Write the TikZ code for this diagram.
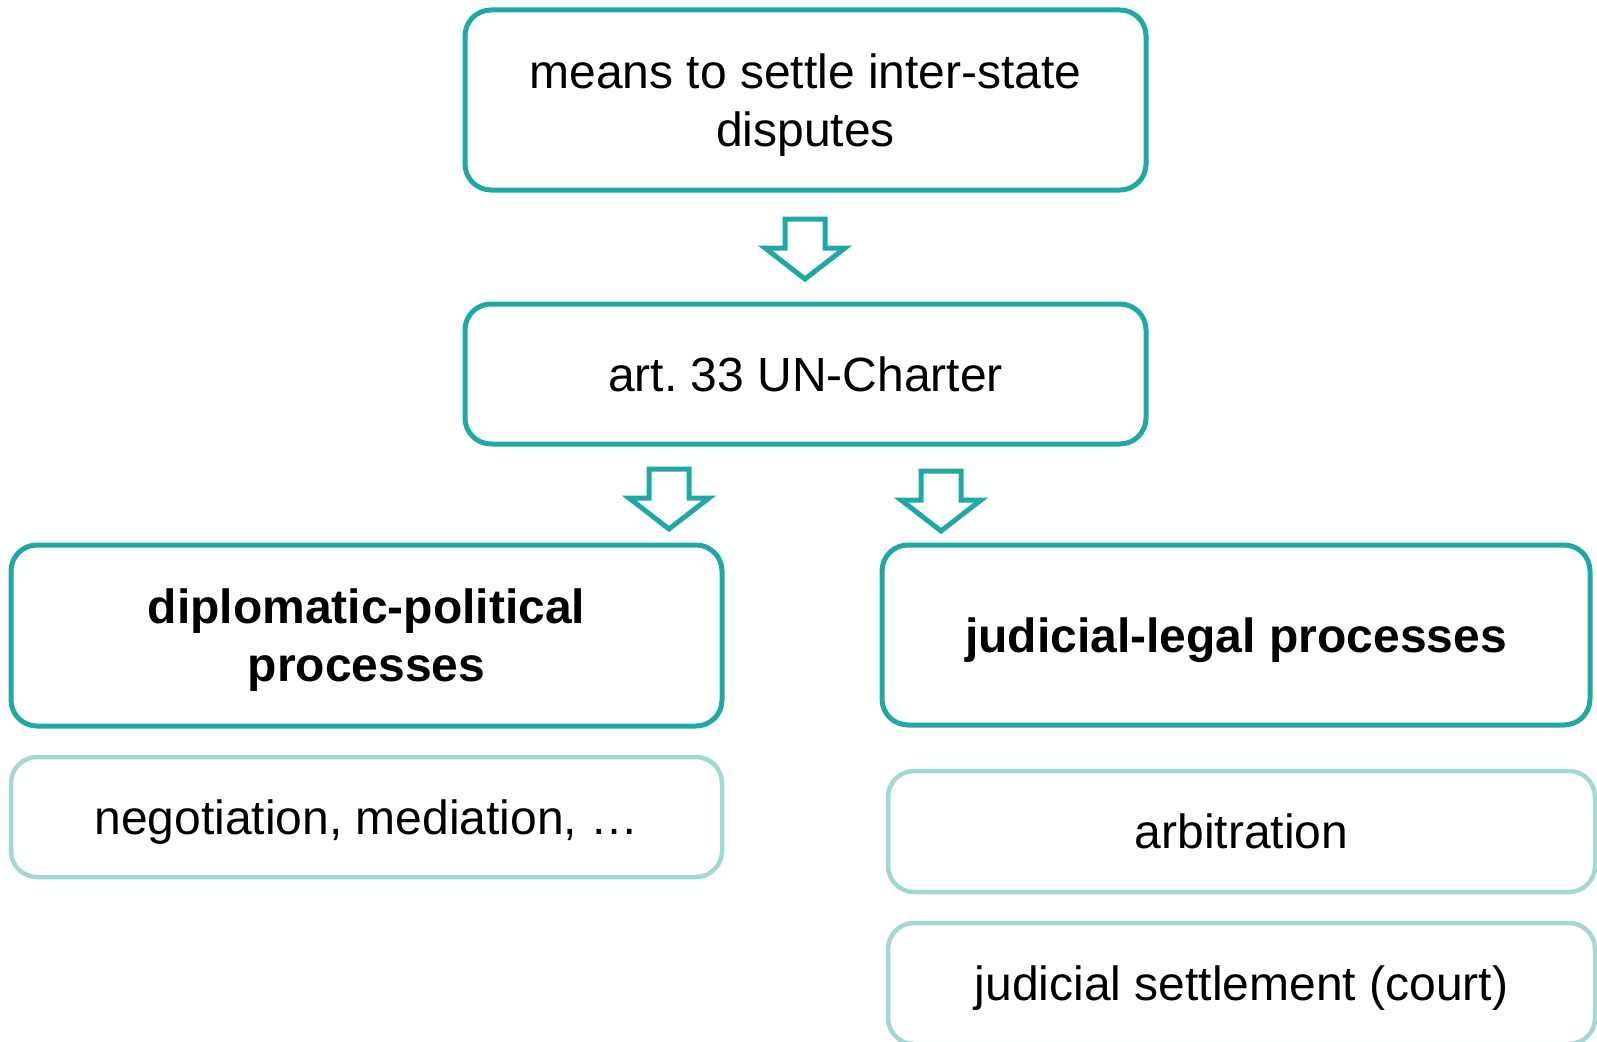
\documentclass[tikz,border=0pt]{standalone}
\usepackage{fontspec}
\setmainfont{Liberation Sans}
\usetikzlibrary{positioning}
\definecolor{darkteal}{RGB}{32,168,164}
\definecolor{lightteal}{RGB}{163,217,212}

\begin{document}
\frenchspacing
\begin{tikzpicture}[x=1pt,y=-1pt]
\tikzstyle{every node}=[font=\fontsize{48}{58}\selectfont, align=center, inner sep=0pt, text depth=0pt]
\tikzstyle{mainbox}=[draw=darkteal, line width=5pt, rounded corners=26pt]
\tikzstyle{subbox}=[draw=lightteal, line width=4.5pt, rounded corners=26pt, minimum height=121pt]
\tikzset{downarrow/.pic={\draw[darkteal, line width=5pt, fill=white] (-20,0) -- (20,0) -- (20,29) -- (40,29) -- (0,60) -- (-40,29) -- (-20,29) -- cycle;}}
\useasboundingbox (0,0) rectangle (1597,1041);
\node [mainbox, minimum width=681pt, minimum height=180pt] (MEANS) at (805.5,100) {means to settle inter-state\\disputes};
\node [mainbox, minimum width=681pt, minimum height=140pt] (ART) at (805.5,374) {art. 33 UN-Charter};
\node [mainbox, minimum width=711pt, minimum height=181pt] (DIPLO) at (366.5,635.5) {\bfseries diplomatic-political\\\bfseries processes};
\node [mainbox, minimum width=708pt, minimum height=180pt] (JUDIC) at (1236,635) {\bfseries judicial-legal processes};
\node [subbox, minimum width=711pt, minimum height=120pt] (NEGO) at (366.5,817) {negotiation, mediation, …};
\node [subbox, minimum width=707pt] (ARBI) at (1241.5,831.5) {arbitration};
\node [subbox, minimum width=707pt] (COURT) at (1241.5,983.5) {judicial settlement (court)};
\pic at (805,219) {downarrow};
\pic at (669,469) {downarrow};
\pic at (941,471) {downarrow};
\end{tikzpicture}
\end{document}
